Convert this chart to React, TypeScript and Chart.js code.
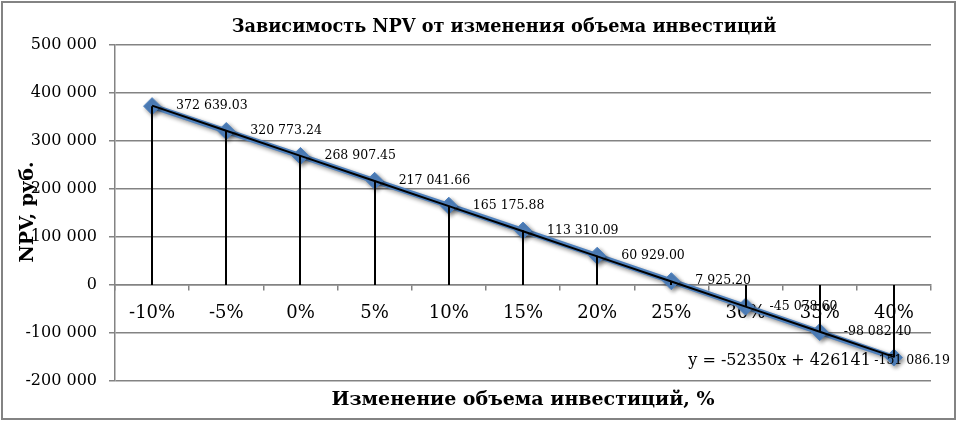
import React, { useEffect, useRef } from "react";
import { Chart, registerables } from "chart.js";

Chart.register(...registerables);

const CATEGORIES = ["-10%", "-5%", "0%", "5%", "10%", "15%", "20%", "25%", "30%", "35%", "40%"];
const NPV_VALUES = [372639.03, 320773.24, 268907.45, 217041.66, 165175.88, 113310.09, 60929.0, 7925.2, -45078.6, -98082.4, -151086.19];
// Linear trendline shown on the chart: y = -52350x + 426141 (x = 1..11)
const TREND_VALUES = [373791, 321441, 269091, 216741, 164391, 112041, 59691, 7341, -45009, -97359, -149709];
const TREND_LABEL = "y = -52350x + 426141";
const Y_MIN = -200000;
const Y_MAX = 500000;
const Y_STEP = 100000;
const TITLE = "Зависимость NPV от изменения объема инвестиций";
const X_TITLE = "Изменение объема инвестиций, %";
const Y_TITLE = "NPV, руб.";

const FONT = "'DejaVu Serif', serif";
const GRID = "#838383";
const BLUE = "#4F81BD";

function groupThousands(n: number, decimals: number): string {
  const neg = n < 0;
  const abs = Math.abs(n);
  const fixed = abs.toFixed(decimals);
  const [intPart, dec] = fixed.split(".");
  const grouped = intPart.replace(/\B(?=(\d{3})+(?!\d))/g, " ");
  return (neg ? "-" : "") + grouped + (dec !== undefined ? "." + dec : "");
}

const decorPlugin = {
  id: "decor",
  beforeDatasetDraw(chart: any, args: any) {
    if (args.index === 0) {
      const ctx = chart.ctx;
      ctx.save();
      ctx.shadowColor = "rgba(0,0,0,0.45)";
      ctx.shadowBlur = 4;
      ctx.shadowOffsetX = 2;
      ctx.shadowOffsetY = 2;
    }
  },
  afterDatasetDraw(chart: any, args: any) {
    if (args.index === 0) chart.ctx.restore();
  },
  afterDatasetsDraw(chart: any) {
    const ctx = chart.ctx;
    const y = chart.scales.y;
    const zero = y.getPixelForValue(0);
    const meta = chart.getDatasetMeta(0);
    ctx.save();
    // drop lines
    ctx.strokeStyle = "#000";
    ctx.lineWidth = 2;
    meta.data.forEach((p: any) => {
      ctx.beginPath();
      ctx.moveTo(Math.round(p.x), p.y);
      ctx.lineTo(Math.round(p.x), zero);
      ctx.stroke();
    });
    // data labels
    ctx.fillStyle = "#000";
    ctx.font = `12.5px ${FONT}`;
    ctx.textAlign = "left";
    ctx.textBaseline = "middle";
    const maxRight = chart.width - 9;
    meta.data.forEach((p: any, i: number) => {
      const txt = groupThousands(NPV_VALUES[i], 2);
      const w = ctx.measureText(txt).width;
      let x = p.x + 24;
      let yy = p.y;
      if (x + w > maxRight) {
        x = maxRight - w;
        yy = p.y + 3;
      }
      ctx.fillText(txt, x, yy);
    });
    // trendline equation
    const last = meta.data[meta.data.length - 1];
    ctx.font = `16px ${FONT}`;
    ctx.textAlign = "right";
    ctx.fillText(TREND_LABEL, last.x - 23, last.y + 3);
    ctx.restore();
  },
  afterDraw(chart: any) {
    const ctx = chart.ctx;
    const area = chart.chartArea;
    ctx.save();
    ctx.fillStyle = "#000";
    ctx.textAlign = "center";
    ctx.textBaseline = "middle";
    ctx.font = `bold 17.7px ${FONT}`;
    ctx.fillText(TITLE, 504, 27);
    ctx.font = `bold 19px ${FONT}`;
    ctx.fillText(X_TITLE, (area.left + area.right) / 2, 400);
    ctx.translate(28, 212);
    ctx.rotate(-Math.PI / 2);
    ctx.font = `bold 19px ${FONT}`;
    ctx.fillText(Y_TITLE, 0, 0);
    ctx.restore();
    ctx.save();
    ctx.strokeStyle = GRID;
    ctx.lineWidth = 2;
    ctx.strokeRect(2, 2, 953, 417);
    ctx.restore();
  },
};

export default function App() {
  const ref = useRef<HTMLCanvasElement | null>(null);
  useEffect(() => {
    document.body.style.margin = "0";
    const canvas = ref.current!;
    const chart = new Chart(canvas, {
      type: "line",
      data: {
        labels: CATEGORIES,
        datasets: [
          {
            data: NPV_VALUES,
            borderColor: BLUE,
            backgroundColor: BLUE,
            borderWidth: 5.5,
            pointStyle: "rectRot",
            pointRadius: 8.5,
            pointBorderWidth: 1,
            pointBorderColor: BLUE,
            pointBackgroundColor: BLUE,
            tension: 0,
            order: 2,
          },
          {
            data: TREND_VALUES,
            borderColor: "#000",
            borderWidth: 2,
            pointRadius: 0,
            tension: 0,
            order: 1,
          },
        ],
      },
      options: {
        responsive: false,
        animation: false,
        layout: { padding: { left: 0, top: 45, right: 28, bottom: 41 } },
        plugins: { legend: { display: false }, tooltip: { enabled: false }, title: { display: false } },
        scales: {
          x: {
            type: "category",
            position: { y: 0 } as any,
            offset: true,
            grid: { display: true, drawOnChartArea: false, drawTicks: true, tickLength: 5, color: GRID, lineWidth: 1.5, offset: true },
            border: { color: GRID, width: 1.5 },
            ticks: { color: "#000", font: { family: FONT, size: 18 }, padding: 13, maxRotation: 0, autoSkip: false },
          },
          y: {
            min: Y_MIN,
            max: Y_MAX,
            afterFit(scale: any) {
              scale.width = 115;
            },
            grid: { color: GRID, lineWidth: 1.5, tickLength: 6 },
            border: { color: GRID, width: 1.5 },
            ticks: {
              stepSize: Y_STEP,
              color: "#000",
              padding: 12,
              font: { family: FONT, size: 16 },
              callback: (v: any) => groupThousands(Number(v), 0),
            },
          },
        },
      },
      plugins: [decorPlugin],
    });
    return () => chart.destroy();
  }, []);
  return (
    <div style={{ width: 959, height: 422, background: "#fff" }}>
      <canvas ref={ref} width={959} height={422} style={{ display: "block" }} />
    </div>
  );
}
